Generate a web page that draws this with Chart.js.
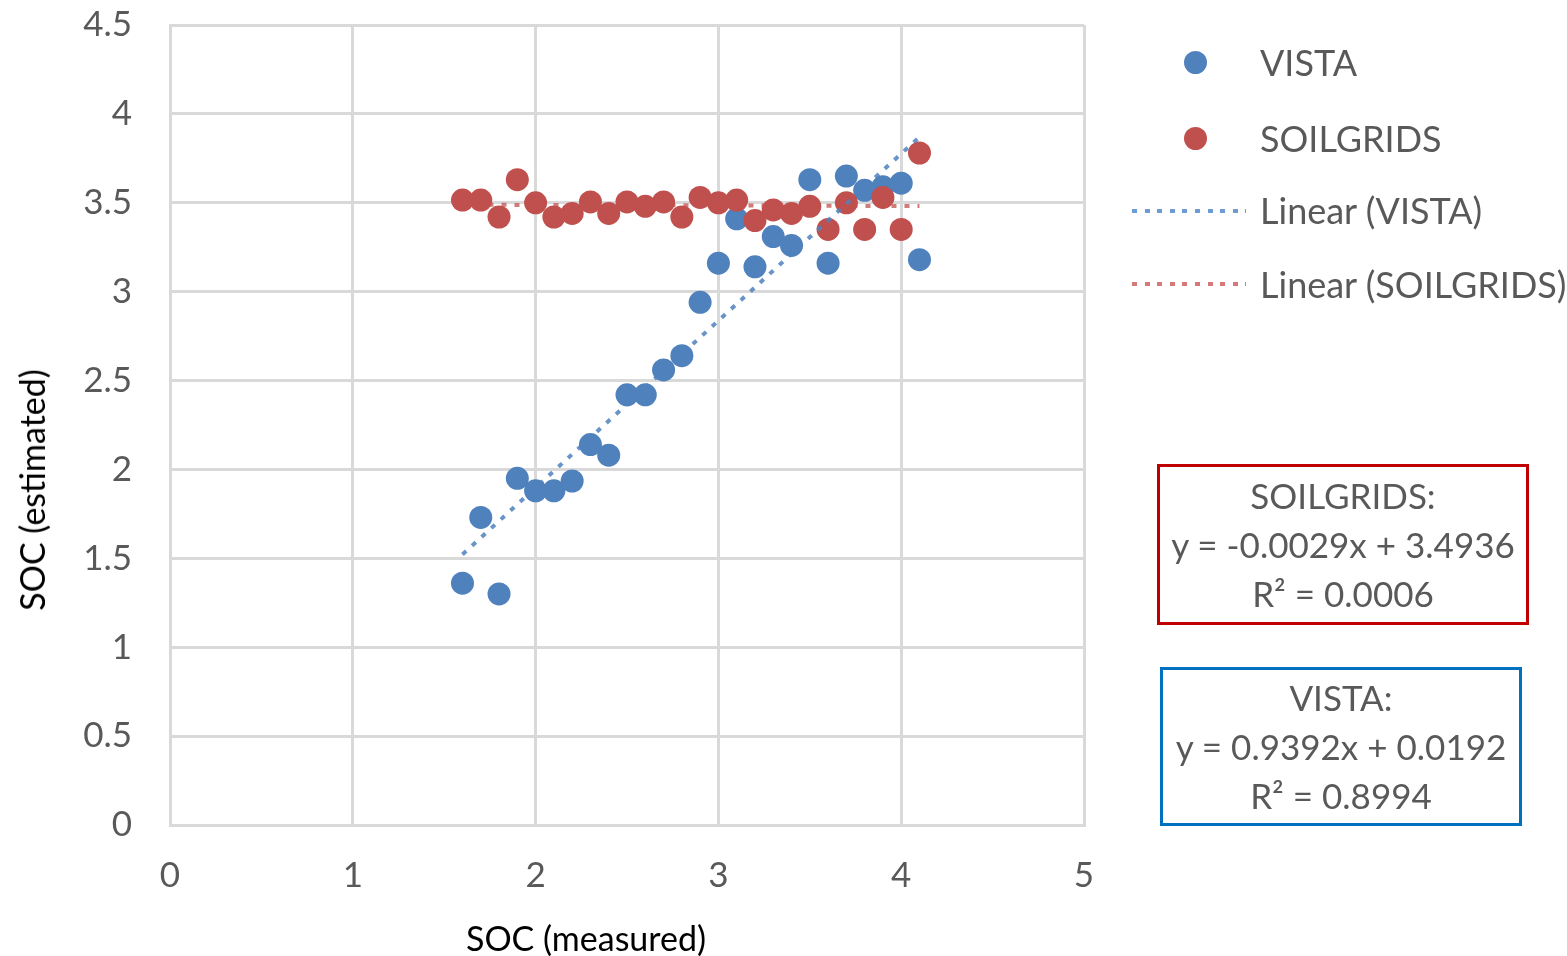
<!DOCTYPE html>
<html>
<head>
<meta charset="utf-8">
<script src="https://cdn.jsdelivr.net/npm/chart.js@4.4.1/dist/chart.umd.min.js"></script>
<style>
  body { margin: 0; background: #fff; font-family: Lato, sans-serif; }
  #wrap { position: relative; width: 1567px; height: 956px; }
  .leg { position: absolute; font-size: 36px; color: #595959; line-height: 40px; white-space: nowrap; }
  .dot { position: absolute; width: 23px; height: 23px; border-radius: 50%; }
  .dash { position: absolute; width: 114px; height: 4px; }
  .box { position: absolute; box-sizing: border-box; border: 3px solid; color: #595959;
         font-size: 35px; line-height: 49px; text-align: center; white-space: nowrap;
         display: flex; flex-direction: column; justify-content: center; }
  .axtitle { position: absolute; font-size: 34px; color: #000; line-height: 40px; white-space: nowrap; }
</style>
</head>
<body>
<div id="wrap">
  <canvas id="socChart" width="1567" height="956"></canvas>

  <div class="axtitle" style="left:586px;top:918px;transform:translateX(-50%)">SOC (measured)</div>
  <div class="axtitle" style="left:32px;top:490px;transform:translate(-50%,-50%) rotate(-90deg)">SOC (estimated)</div>

  <div class="dot" style="left:1184px;top:51px;background:#4f81bd"></div>
  <div class="leg" style="left:1260px;top:42px">VISTA</div>
  <div class="dot" style="left:1184px;top:127px;background:#c0504d"></div>
  <div class="leg" style="left:1260px;top:118px">SOILGRIDS</div>
  <div class="dash" style="left:1132px;top:209px;background:repeating-linear-gradient(to right,#6f9bd4 0 5px,transparent 5px 12.6px)"></div>
  <div class="leg" style="left:1260px;top:190px">Linear (VISTA)</div>
  <div class="dash" style="left:1132px;top:282px;background:repeating-linear-gradient(to right,#d57a78 0 5px,transparent 5px 12.6px)"></div>
  <div class="leg" style="left:1260px;top:264px">Linear (SOILGRIDS)</div>

  <div class="box" style="left:1157px;top:464px;width:372px;height:161px;border-color:#c00000">
    <div>SOILGRIDS:</div>
    <div>y = -0.0029x + 3.4936</div>
    <div>R² = 0.0006</div>
  </div>
  <div class="box" style="left:1160px;top:667px;width:362px;height:159px;border-color:#0070c0">
    <div>VISTA:</div>
    <div>y = 0.9392x + 0.0192</div>
    <div>R² = 0.8994</div>
  </div>
</div>

<script>
// measured SOC (x) shared by both series
const socMeasured = [1.6, 1.7, 1.8, 1.9, 2.0, 2.1, 2.2, 2.3, 2.4, 2.5, 2.6, 2.7, 2.8,
                     2.9, 3.0, 3.1, 3.2, 3.3, 3.4, 3.5, 3.6, 3.7, 3.8, 3.9, 4.0, 4.1];
const vistaEst = [1.36, 1.73, 1.30, 1.95, 1.88, 1.88, 1.935, 2.14, 2.08, 2.42, 2.42, 2.56, 2.64,
                  2.94, 3.16, 3.41, 3.14, 3.31, 3.26, 3.63, 3.16, 3.65, 3.57, 3.59, 3.61, 3.18];
const soilgridsEst = [3.515, 3.515, 3.42, 3.63, 3.50, 3.42, 3.44, 3.505, 3.44, 3.505, 3.48, 3.505, 3.42,
                      3.53, 3.50, 3.515, 3.40, 3.46, 3.44, 3.48, 3.35, 3.50, 3.35, 3.53, 3.35, 3.78];

// trendline coefficients as printed on the chart [slope, intercept]
const vistaFit = [0.9392, 0.0192];
const soilgridsFit = [-0.0029, 3.4936];

const xTicks = [0, 1, 2, 3, 4, 5];
const yTicks = [0, 0.5, 1, 1.5, 2, 2.5, 3, 3.5, 4, 4.5];

function toPoints(ys) {
    return socMeasured.map((x, i) => ({ x: x, y: ys[i] }));
}

function trend(fit) {
    const x0 = socMeasured[0];
    const x1 = socMeasured[socMeasured.length - 1];
    return [{ x: x0, y: fit[0] * x0 + fit[1] }, { x: x1, y: fit[0] * x1 + fit[1] }];
}

const gridColor = '#d9d9d9';
const tickColor = '#595959';

new Chart(document.getElementById('socChart'), {
    type: 'scatter',
    data: {
        datasets: [
            {
                label: 'Linear (SOILGRIDS)',
                type: 'line',
                data: trend(soilgridsFit),
                borderColor: 'rgba(192, 80, 77, 0.75)',
                borderWidth: 4,
                borderDash: [5, 8],
                pointRadius: 0,
                fill: false,
                order: 1
            },
            {
                label: 'Linear (VISTA)',
                type: 'line',
                data: trend(vistaFit),
                borderColor: 'rgba(79, 129, 189, 0.85)',
                borderWidth: 4,
                borderDash: [5, 8],
                pointRadius: 0,
                fill: false,
                order: 2
            },
            {
                label: 'SOILGRIDS',
                data: toPoints(soilgridsEst),
                backgroundColor: '#c0504d',
                borderWidth: 0,
                pointRadius: 11.5,
                order: 3
            },
            {
                label: 'VISTA',
                data: toPoints(vistaEst),
                backgroundColor: '#4f81bd',
                borderWidth: 0,
                pointRadius: 11.5,
                order: 4
            }
        ]
    },
    options: {
        responsive: false,
        animation: false,
        devicePixelRatio: 1,
        layout: { padding: { left: 0, top: 25, right: 483, bottom: 0 } },
        plugins: {
            legend: { display: false },
            tooltip: { enabled: false }
        },
        scales: {
            x: {
                type: 'linear',
                min: 0,
                max: 5,
                afterFit: s => { s.height = 131; },
                afterBuildTicks: s => { s.ticks = xTicks.map(v => ({ value: v })); },
                grid: { color: gridColor, lineWidth: 3, drawTicks: false },
                border: { color: gridColor, width: 3 },
                ticks: {
                    color: tickColor,
                    padding: 30,
                    font: { family: 'Lato', size: 35 },
                    callback: v => String(v)
                }
            },
            y: {
                type: 'linear',
                min: 0,
                max: 4.5,
                afterFit: s => { s.width = 170; s.paddingTop = 0; s.paddingBottom = 0; },
                afterBuildTicks: s => { s.ticks = yTicks.map(v => ({ value: v })); },
                grid: { color: gridColor, lineWidth: 3, drawTicks: false },
                border: { color: gridColor, width: 3 },
                ticks: {
                    color: tickColor,
                    padding: 38,
                    font: { family: 'Lato', size: 35 },
                    callback: v => String(v)
                }
            }
        }
    }
});
</script>
</body>
</html>
